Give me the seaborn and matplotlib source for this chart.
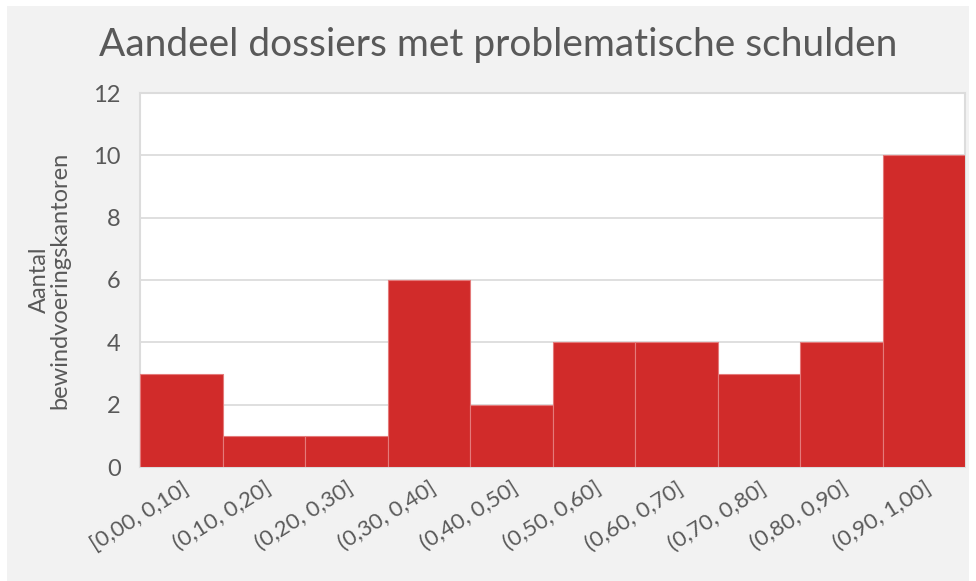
import matplotlib
matplotlib.use("Agg")
import matplotlib.pyplot as plt
from matplotlib.patches import Rectangle
import pandas as pd
import seaborn as sns

# data
bins = ["[0,00, 0,10]", "(0,10, 0,20]", "(0,20, 0,30]", "(0,30, 0,40]", "(0,40, 0,50]",
        "(0,50, 0,60]", "(0,60, 0,70]", "(0,70, 0,80]", "(0,80, 0,90]", "(0,90, 1,00]"]
counts = [3, 1, 1, 6, 2, 4, 4, 3, 4, 10]
y_ticks = [0, 2, 4, 6, 8, 10, 12]

title = "Aandeel dossiers met problematische schulden"
y_label = "Aantal\nbewindvoeringskantoren"

bar_color = "#d12b2a"
text_color = "#595959"
panel_color = "#f2f2f2"

df = pd.DataFrame({"bin": bins, "count": counts})

sns.set_theme(style="white")
plt.rcParams["font.family"] = ["Lato", "DejaVu Sans"]

fig = plt.figure(figsize=(9.76, 5.81), dpi=100, facecolor="white")
fig.patches.append(Rectangle((7 / 976, 0), 962 / 976, 575 / 581, transform=fig.transFigure,
                             facecolor=panel_color, edgecolor="none", zorder=-10))

ax = fig.add_axes([140 / 976, 1 - 467 / 581, 825 / 976, 374 / 581])
ax.set_facecolor("white")

sns.barplot(data=df, x="bin", y="count", color=bar_color, width=1.0, saturation=1,
            edgecolor="#e47a7a", linewidth=0.8, ax=ax, zorder=3)

ax.set_xlim(-0.5, len(bins) - 0.5)
ax.set_ylim(0, 12)
ax.set_yticks(y_ticks)
ax.yaxis.grid(True, color="#d9d9d9", linewidth=1.2, zorder=0)
ax.set_axisbelow(True)

for spine in ax.spines.values():
    spine.set_color("#dcdcdc")
    spine.set_linewidth(1.5)

ax.tick_params(axis="y", labelsize=17, labelcolor=text_color, length=0, pad=14)
ax.tick_params(axis="x", labelsize=16, labelcolor=text_color, length=0, pad=8)
plt.setp(ax.get_xticklabels(), rotation=32, ha="right", rotation_mode="anchor")

ax.set_xlabel("")
ax.set_ylabel(y_label, fontsize=17, color=text_color, labelpad=16, linespacing=1.0)

fig.text(498 / 976, 1 - 45 / 581, title, ha="center", va="center", fontsize=28,
         color=text_color)

fig.savefig("out.png", dpi=100, facecolor=fig.get_facecolor())
